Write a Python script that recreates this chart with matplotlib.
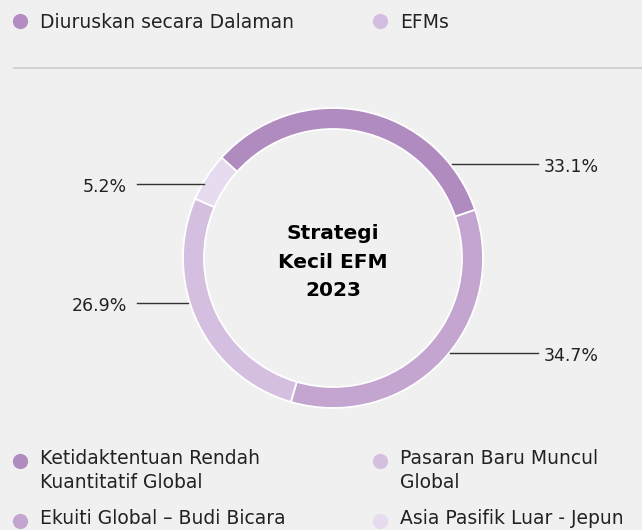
import matplotlib

matplotlib.use("Agg")
import matplotlib.pyplot as plt
from matplotlib.lines import Line2D

# data
slice_labels = [
    "Ketidaktentuan Rendah\nKuantitatif Global",
    "Ekuiti Global – Budi Bicara",
    "Pasaran Baru Muncul\nGlobal",
    "Asia Pasifik Luar - Jepun",
]
slice_values = [33.1, 34.7, 26.9, 5.2]
slice_colors = ["#b08bc0", "#c3a5d0", "#d4bfe0", "#e6dbef"]

top_legend = ["Diuruskan secara Dalaman", "EFMs"]
top_colors = ["#b48cc2", "#d3bde0"]

center_title = "Strategi\nKecil EFM\n2023"

W, H = 642, 530
BG = "#f0f0f0"
FONT = "DejaVu Sans"

fig = plt.figure(figsize=(W / 100, H / 100), dpi=100, facecolor=BG)
ax = fig.add_axes([0, 0, 1, 1])
ax.set_facecolor(BG)


def py(y):
    # pixel rows from the top -> data y
    return H - y


cx, cy, radius, ring = 333, py(258), 150, 21
wedges, _ = ax.pie(
    slice_values,
    colors=slice_colors,
    startangle=138,
    counterclock=False,
    center=(cx, cy),
    radius=radius,
    wedgeprops=dict(width=ring, edgecolor="white", linewidth=1.3),
)

# value labels with horizontal leaders
label_pos = [
    (452, 538, 164, "left"),   # 33.1
    (450, 538, 353, "left"),   # 34.7
    (188, 137, 303, "right"),  # 26.9
    (204, 137, 184, "right"),  # 5.2
]
for val, (x0, x1, y, ha) in zip(slice_values, label_pos):
    ax.add_line(Line2D([x0, x1], [py(y), py(y)], color="#333333", lw=1.0))
    tx = x1 + 6 if ha == "left" else x1 - 10
    ax.text(tx, py(y + 3), f"{val}%", ha=ha, va="center",
            fontsize=12.5, family=FONT, color="#222222")

ax.text(cx, py(262), center_title, ha="center", va="center", fontsize=14.5,
        fontweight="bold", family=FONT, color="black", linespacing=1.65)

# top legend
for i, (lab, col) in enumerate(zip(top_legend, top_colors)):
    x = 20 + i * 360
    ax.scatter([x], [py(21)], s=120, color=col, zorder=3, linewidths=0)
    ax.text(x + 20, py(23), lab, ha="left", va="center", fontsize=13.5,
            family=FONT, color="#222222")

ax.add_line(Line2D([14, W], [py(68), py(68)], color="#cccccc", lw=1.2))

# bottom legend, two columns
order = [0, 2, 1, 3]
rows_y = [461, 461, 521, 521]
for k, idx in enumerate(order):
    x = 20 + (k % 2) * 360
    y = rows_y[k]
    ax.scatter([x], [py(y)], s=120, color=slice_colors[idx], zorder=3,
               linewidths=0)
    ax.text(x + 20, py(y - 12), slice_labels[idx], ha="left", va="top",
            fontsize=13.5, family=FONT, color="#222222", linespacing=1.3)

ax.set_xlim(0, W)
ax.set_ylim(0, H)
ax.set_aspect("auto")
ax.set_axis_off()

fig.savefig("out.png", dpi=100, facecolor=BG)
